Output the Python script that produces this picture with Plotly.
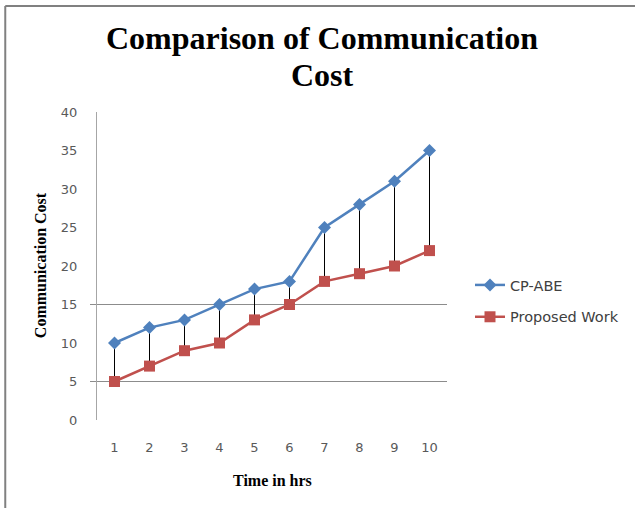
import plotly.graph_objects as go

hours = [1, 2, 3, 4, 5, 6, 7, 8, 9, 10]
cp_abe = [10, 12, 13, 15, 17, 18, 25, 28, 31, 35]
proposed = [5, 7, 9, 10, 13, 15, 18, 19, 20, 22]
y_ticks = [0, 5, 10, 15, 20, 25, 30, 35, 40]
grid_values = [5, 15]

BLUE = "#4F81BD"
RED = "#C0504D"

# plot area in pixels: x 97..448, y 112..420
PL, PR, PT, PB = 97, 448, 112, 420
PW, PH = PR - PL, PB - PT


def px(x):
    return (x - PL) / PW


def py(y):
    return (PB - y) / PH


# high-low drop lines between the two series
drop_x, drop_y = [], []
for h, a, b in zip(hours, cp_abe, proposed):
    drop_x += [h, h, None]
    drop_y += [b, a, None]

fig = go.Figure()
fig.add_trace(go.Scatter(x=drop_x, y=drop_y, mode="lines",
                         line=dict(color="#000000", width=1),
                         showlegend=False, hoverinfo="skip"))
fig.add_trace(go.Scatter(x=hours, y=cp_abe, name="CP-ABE", mode="lines+markers",
                         legendgroup="a",
                         line=dict(color=BLUE, width=2.5),
                         marker=dict(symbol="diamond", size=10, color=BLUE)))
fig.add_trace(go.Scatter(x=hours, y=proposed, name="Proposed Work", mode="lines+markers",
                         legendgroup="b",
                         line=dict(color=RED, width=2.5),
                         marker=dict(symbol="square", size=11, color=RED)))

shapes = []
for g in grid_values:
    shapes.append(dict(type="line", xref="paper", yref="y", x0=px(90), x1=1.0,
                       y0=g, y1=g, line=dict(color="#8C8C8C", width=1), layer="below"))
# outer chart border (left and top)
shapes.append(dict(type="line", xref="paper", yref="paper", x0=px(5), x1=px(5),
                   y0=py(515), y1=py(6), line=dict(color="#808080", width=2)))
shapes.append(dict(type="line", xref="paper", yref="paper", x0=px(5), x1=px(640),
                   y0=py(6), y1=py(6), line=dict(color="#808080", width=2)))

fig.update_layout(
    width=635, height=508,
    margin=dict(l=PL, r=635 - PR, t=PT, b=508 - PB),
    paper_bgcolor="white", plot_bgcolor="white",
    xaxis=dict(range=[0.5, 10.5], tickmode="array", tickvals=hours,
               ticktext=[str(h) for h in hours], showgrid=False, zeroline=False,
               showline=False, ticks="", ticklabelstandoff=18,
               tickfont=dict(family="DejaVu Sans", size=13, color="#595959")),
    yaxis=dict(range=[0, 40], tickmode="array", tickvals=y_ticks, showgrid=False,
               zeroline=False, showline=True, linecolor="#A6A6A6", linewidth=1,
               ticks="", ticklabelstandoff=16,
               tickfont=dict(family="DejaVu Sans", size=13, color="#595959")),
    legend=dict(x=px(470), y=py(301), xanchor="left", yanchor="middle",
                font=dict(family="DejaVu Sans", size=14.5, color="#404040"),
                tracegroupgap=10, traceorder="grouped", bgcolor="rgba(0,0,0,0)"),
    shapes=shapes,
    annotations=[
        dict(text="<b>Comparison of Communication</b>", xref="paper", yref="paper",
             x=px(323), y=py(38), xanchor="center", yanchor="middle", showarrow=False,
             font=dict(family="Liberation Serif", size=32, color="black")),
        dict(text="<b>Cost</b>", xref="paper", yref="paper",
             x=px(323), y=py(75), xanchor="center", yanchor="middle", showarrow=False,
             font=dict(family="Liberation Serif", size=32, color="black")),
        dict(text="<b>Communication Cost</b>", xref="paper", yref="paper",
             x=px(40), y=py(265), xanchor="center", yanchor="middle",
             textangle=-90, showarrow=False,
             font=dict(family="Liberation Serif", size=16, color="black")),
        dict(text="<b>Time in hrs</b>", xref="paper", yref="paper",
             x=px(273), y=py(480), xanchor="center", yanchor="middle", showarrow=False,
             font=dict(family="Liberation Serif", size=16, color="black")),
    ],
)

fig.write_html("out.html", config={"displayModeBar": False},
               post_script="document.body.style.margin='0';")
